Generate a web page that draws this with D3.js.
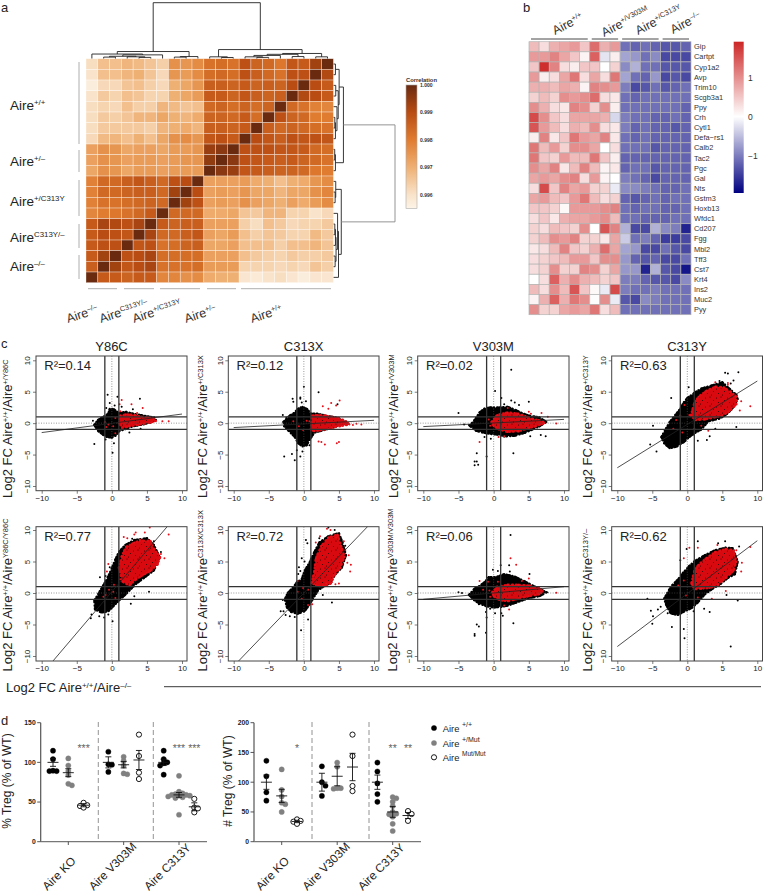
<!DOCTYPE html>
<html><head><meta charset="utf-8">
<script src="https://cdnjs.cloudflare.com/ajax/libs/d3/7.8.5/d3.min.js"></script>
<style>html,body{margin:0;background:#fff}svg{display:block;font-family:"Liberation Sans",Arial,sans-serif}</style>
</head><body><div id="c"></div>
<script>
// ---------- panel a: correlation x 1000, rows top to bottom, columns left to right
const corrRows = [
[996.1,996.7,996.7,996.9,996.8,996.6,996.4,997.6,997.5,997.7,998.2,998.3,998.2,998.9,998.5,998.4,998.1,998.8,998.7,999.3,1000],
[996.0,996.7,996.7,996.9,997.0,996.6,996.2,997.5,997.4,997.7,998.3,998.4,998.3,998.9,998.6,998.4,998.2,998.9,998.9,1000,999.1],
[995.7,996.2,996.2,996.6,996.7,996.4,996.2,997.0,997.2,997.5,998.6,998.6,998.5,998.7,998.5,998.6,998.5,999.0,1000,999.0,998.7],
[996.0,996.5,996.3,996.7,996.6,996.3,996.3,997.0,997.2,997.4,998.7,998.7,998.5,998.8,998.6,998.5,998.6,1000,999.1,999.0,998.7],
[996.1,996.3,996.2,996.7,996.4,996.4,996.9,996.8,996.6,996.7,998.4,998.5,998.3,998.5,998.3,998.5,1000,998.4,998.2,997.9,997.8],
[996.1,996.5,996.4,996.6,996.9,996.9,997.2,997.0,996.9,997.1,998.5,998.5,998.4,998.7,998.3,1000,998.9,998.5,998.4,998.0,998.0],
[996.1,996.5,996.5,996.5,996.5,996.4,996.9,997.0,997.1,996.9,998.6,998.6,998.5,998.7,1000,998.6,998.4,998.5,998.4,998.3,998.2],
[996.2,996.8,996.9,996.7,997.0,996.7,997.2,997.6,997.7,997.5,998.8,998.9,998.7,1000,999.0,998.8,998.6,998.9,998.8,998.9,998.8],
[997.3,997.6,997.5,997.2,997.3,997.3,997.2,997.4,997.4,997.5,999.4,999.6,1000,998.9,998.9,998.9,998.8,998.8,998.7,998.4,998.3],
[997.3,997.6,997.5,997.3,997.4,997.4,997.3,997.4,997.5,997.5,999.5,1000,999.6,998.9,998.8,998.7,998.6,998.7,998.5,998.4,998.2],
[997.2,997.6,997.5,997.2,997.4,997.4,997.3,997.4,997.4,997.4,1000,999.6,999.4,998.8,998.7,998.6,998.5,998.5,998.4,998.1,998.0],
[997.9,998.4,998.4,998.6,998.8,998.6,998.4,998.9,999.0,1000,997.3,997.3,997.3,997.4,997.1,997.0,996.7,997.0,997.1,997.5,997.7],
[997.9,998.4,998.4,998.5,998.6,998.6,998.4,999.3,1000,999.0,997.3,997.4,997.3,997.5,997.2,997.2,996.9,997.2,997.2,997.6,997.8],
[997.9,998.2,998.2,998.3,998.4,998.5,998.4,1000,999.3,998.9,997.3,997.4,997.3,997.6,997.3,997.2,997.0,997.3,997.1,997.4,997.7],
[997.8,998.0,998.1,998.2,998.4,998.7,1000,998.4,998.4,998.4,997.1,997.1,997.2,996.6,996.5,996.9,996.9,996.3,996.3,996.0,996.2],
[998.7,999.2,999.1,998.9,999.2,1000,998.7,998.5,998.6,998.6,997.3,997.3,997.3,996.4,996.1,996.7,996.5,996.2,996.3,996.3,996.5],
[998.7,999.0,998.9,998.8,1000,999.2,998.4,998.4,998.6,998.8,997.3,997.2,997.4,996.7,996.4,996.6,996.5,996.3,996.3,996.8,996.5],
[998.7,998.9,998.9,1000,998.8,998.9,998.2,998.3,998.5,998.6,997.2,997.2,997.3,996.7,996.7,996.7,996.4,996.7,996.7,996.9,996.6],
[998.7,999.3,1000,998.9,999.0,999.2,998.3,998.3,998.3,998.3,997.3,997.3,997.3,996.7,996.5,996.4,996.3,996.5,996.4,996.4,996.5],
[998.6,1000,999.3,998.8,999.0,999.2,998.2,998.2,998.2,998.3,997.4,997.4,997.4,996.3,996.3,996.3,996.2,996.3,996.2,996.6,996.4],
[1000,998.7,998.7,998.5,998.7,998.7,997.8,997.8,997.6,997.7,997.1,997.0,997.0,995.9,995.8,996.0,996.1,995.9,995.7,995.9,995.9]];
const corrTicks = [1.000,0.999,0.998,0.997,0.996];
const corrStops = [0.9955,0.996,0.997,0.998,0.999,1.000];
const corrColors = ["#fdf4e8","#f9e3ca","#efb073","#e07c30","#b94c12","#6a2a10"];
// dendrogram: [height, left, right]; numbers are leaf indices
const dendroTree = [1.0,
 [0.125,[0.08,0,[0.065,[0.04,[0.025,1,2],[0.03,3,[0.02,4,5]]],6]],[0.035,[0.025,7,8],9]],
 [0.16,[0.03,10,[0.018,11,12]],[0.09,[0.075,[0.055,[0.03,13,[0.02,14,15]],16],[0.035,17,18]],[0.03,19,20]]]];
const aLeft = [["+/+",110],["+/–",166],["+/C313Y",205.5],["C313Y/–",241.5],["–/–",270.5]];
const aBottom = [["–/–",68],["C313Y/–",101],["+/C313Y",134],["+/–",186],["+/+",252]];

// ---------- panel b
const genes = ["Gip","Cartpt","Cyp1a2","Avp","Trim10","Scgb3a1","Ppy","Crh","Cytl1","Defa−rs1","Calb2","Tac2","Pgc","Gal","Nts","Gstm3","Hoxb13","Wfdc1","Cd207","Fgg","Mbl2","Tff3","Cst7","Krt4","Ins2","Muc2","Pyy"];
const geneZ = [
[.6,.3,.7,.8,.9,.5,1.3,.7,.9,-1.1,-1.2,-1.1,-1.2,-1.3,-1.3,-1.2],
[.9,.9,1.1,.8,.5,.1,1.4,-.2,.15,-.7,-.8,-1.1,-.9,-1.4,-1.4,-1.4],
[.5,1.85,1.1,.3,.15,.5,.5,0,.4,-.9,-.6,-1.1,-1.1,-1.3,-1.3,-1.3],
[.9,.15,.3,.8,1.2,.3,.8,.3,1.2,-.7,-1.1,-1.2,-.8,-1.4,-1.3,-1.4],
[.7,.7,.6,.8,.7,.1,1.1,1,.9,-1,-1.4,-1.3,-1.1,-1.3,-1.2,-1.1],
[.4,.6,.4,1,.9,1,1.3,.3,.2,-1.1,-1.2,-1.1,-1.1,-1.1,-1.1,-1.1],
[1,.7,.3,.2,1.1,1,.4,1,.15,-1.1,-1.1,-1.1,-1.1,-1.1,-1.1,-1.2],
[1.6,1,.5,.3,.8,.8,.8,.7,-.3,-1,-1.1,-1.1,-1.2,-1.2,-1.1,-1.2],
[1.5,.9,.6,.3,.7,.6,1,.3,.2,-1,-1.2,-1.1,-1.2,-1.2,-1.3,-1.2],
[.15,1.1,.2,.5,1.2,.9,.8,1.1,.2,-1.1,-1.2,-1.1,-1.2,-1.2,-1.2,-1.2],
[1.2,.6,.9,.4,1,1,.8,0,.3,-1.1,-1.1,-1.1,-1.3,-1.2,-1.2,-1.2],
[1.2,.5,.4,.9,.6,.6,1.2,.5,.15,-1.2,-1.2,-1.2,-1.2,-1.2,-1.2,-1.2],
[1,.8,1.1,.2,.6,1.1,.6,.1,.2,-1.2,-1.1,-1.1,-1.3,-1.2,-1.2,-1.2],
[.8,.9,.8,1,1.1,.3,.9,.1,0,-1,-1.1,-1.2,-1.4,-1.2,-1.2,-1.2],
[.3,1.6,.5,1.1,.8,.9,.4,.4,-.15,-.9,-.9,-1,-1.1,-1.2,-1.2,-1.1],
[.8,.9,.6,.5,.9,1.2,.6,.3,.4,-1.2,-1.3,-1.2,-1.1,-1.2,-1.1,-1.1],
[.5,.5,.4,.05,.9,.9,.9,1,1.1,-1.1,-1.2,-1.1,-1.1,-1.2,-1.2,-1.1],
[.3,.5,.2,.7,.8,.8,.9,1,.6,-1.1,-1.1,-1.2,-1.2,-1.2,-1.1,-1.1],
[.4,.3,.6,.5,.4,1,0,1.5,1.1,-.6,-1.4,-1.4,-.6,-.9,-1,-1.7],
[.4,.6,1,.9,1.1,.4,.4,.2,.8,-.4,-1.1,-1,-1.2,-1.5,-1.5,-1.4],
[.2,.3,.6,1.1,.5,.4,.7,1.3,.8,-.7,-.8,-1.4,-1.4,-1.1,-1.3,-1.4],
[.3,.4,.5,.6,.9,.9,.5,1,1,-.8,-1.2,-1.3,-1.2,-1.4,-1.4,-1.1],
[.3,.4,1,.4,.4,1.1,1,.4,.8,-.8,-.8,-1.7,-.6,-1.3,-1.4,-1.8],
[0,.3,1.4,.7,1,.7,.6,.4,.5,-1,-1,-1.2,-1.3,-1.3,-1.4,-.9],
[.6,.3,1,.6,1.5,.5,.05,-.15,1.6,-1,-1.1,-1.1,-1,-1.1,-1.1,-1.1],
[.1,.7,1.4,.7,1.2,1,.02,1,-.15,-1.3,-1.4,-.9,-1,-1.1,-1.1,-1.1],
[1,.4,.4,.8,.9,.8,1.2,.3,.6,-1.1,-1.1,-1.1,-1.1,-1.1,-1.1,-1.1]];
const bGroups = [["+/+",0,6],["+/V303M",6,9],["+/C313Y",9,13],["–/–",13,16]];
const zTicks = [1,0,-1];

// ---------- panel c: cloud outlines and individually readable points, in log2 FC units
const titles = ["Y86C","C313X","V303M","C313Y"];
const hetSup = ["+/Y86C","+/C313X","+/V303M","+/C313Y"];
const homSup = ["Y86C/Y86C","C313X/C313X","V303M/V303M","C313Y/–"];
const r2 = ["0.14","0.12","0.02","0.63","0.77","0.72","0.06","0.62"];
const fitEnds = [[-1.5,1.45],[-.7,.45],[-.55,.6],[-7.1,6.7],[-12.9,13.3],[-11.6,11.6],[-1,1],[-8.5,8.3]];
const blackHulls = [
[[-2.5,-.3],[-2,.5],[-1.2,1],[-.5,1.5],[-.3,2.3],[.3,2.2],[1,1.6],[2,1.8],[3,1.5],[4,1.3],[5,1.1],[6,.9],[6.3,.5],[5.5,.1],[4,-.3],[3,-.5],[2,-.9],[1,-1.3],[.5,-2],[0,-2.3],[-.7,-2.2],[-1.3,-1.8],[-2,-1.2]],
[[-2.9,.2],[-2,1.2],[-1.4,1.6],[-.8,2.3],[-.2,2.6],[.5,2.2],[1,1.5],[2,1.5],[3,1.2],[4,1],[5,.8],[5.5,.3],[4.5,-.6],[3.5,-.9],[2.5,-1.2],[1.5,-1.5],[.9,-2.5],[.4,-3.5],[-.2,-3.7],[-.8,-3.2],[-1.3,-2.2],[-2.1,-1.3],[-2.8,-.5]],
[[-3.4,-.4],[-2.5,.8],[-2,1.7],[-1.3,2.3],[-.5,2.5],[1,2.5],[2,2.6],[3.1,2.1],[4,1.6],[5,1.2],[6.5,.9],[7.5,.2],[6.5,-.5],[5.5,-1],[4.5,-1.5],[3,-2],[1.5,-2.1],[.5,-1.8],[-.5,-1.7],[-1.5,-1.5],[-2.5,-1.2]],
[[-3.7,-2.2],[-3,-.8],[-2.5,.2],[-1.7,1.3],[-1,2.3],[-.5,3.3],[0,4],[1,4.8],[2,5.5],[3.5,6],[5,6.5],[6,5.5],[7,4.5],[7.2,3.8],[6.5,2.4],[5.5,1.3],[4.5,.7],[3,.3],[2,-1],[1,-1.6],[.3,-2.2],[-.5,-3],[-1.5,-3.7],[-2.5,-4],[-3.3,-3.2]],
[[-2.4,-2.6],[-2.5,-1.2],[-1.9,-.1],[-1.4,.9],[-.9,1.8],[-.4,2.9],[.1,4.2],[.5,5.3],[1,6.5],[1.9,7.6],[3.2,8.4],[5,8.7],[6,7.6],[6.8,5.7],[6,3.6],[4.7,2.5],[3.5,1.5],[2.5,.4],[1.7,-.5],[.9,-1.3],[.3,-2],[-.5,-2.9],[-1.5,-3.1]],
[[-2.4,-2.3],[-2.7,-1],[-2.3,0],[-1.5,.9],[-1,1.7],[-.3,2.2],[.1,3.5],[.8,4.8],[1.5,6.5],[2.2,8],[3.5,9],[5,9.5],[5.5,8],[6,6],[5.4,4],[4.5,3],[3.8,1.6],[3,1.2],[2,.4],[1.3,-.9],[.7,-2],[.1,-2.9],[-.9,-3.3],[-1.8,-3]],
[[-3.5,-.3],[-2.7,.7],[-2,1.1],[-1.3,1.7],[-.7,2.5],[.3,2.5],[1.5,3],[3,2.6],[4.5,1.8],[5.5,1.2],[6.5,.7],[7.5,.1],[6.5,-.5],[5,-.8],[3.5,-1.4],[2,-2],[1,-2.2],[0,-2.3],[-1,-2.1],[-2,-1.7],[-2.8,-1.1]],
[[-3,-1.9],[-3.3,-.9],[-2.6,.5],[-2.1,1.3],[-1.3,2.2],[-.6,3.2],[.3,4.3],[1.1,5.1],[2.5,6],[4,6.8],[5.5,7.2],[6.5,7.1],[7.2,5],[6.8,3],[5.8,2.4],[4.8,1.5],[3.5,.6],[2.5,-.2],[1.5,-1.5],[.6,-2.4],[-.4,-2.9],[-1.4,-3.5],[-2.4,-3.2]]];
const redHulls = [
[[1,0],[1.2,1.2],[2,1.4],[3.2,1.3],[4.2,1],[5.2,.9],[6,.7],[6.3,.4],[5.5,.1],[4.5,-.1],[3.5,-.3],[2.5,-.5],[1.5,-.8]],
[[1,-1],[1.1,1.2],[2,1.3],[3,1.2],[4,1],[5,.8],[6,.3],[6.5,-.2],[5.5,-.4],[4.5,-.6],[3.5,-.9],[2.5,-1.1],[1.5,-1.3]],
[[-.3,.2],[.5,1.3],[2,1.7],[3.5,1.5],[4.5,1.1],[5.5,.7],[7,.3],[7.2,0],[6,-.5],[5,-.8],[3.5,-1.3],[2,-1.4],[.8,-1],[0,-.5]],
[[.5,1.2],[1,3.2],[1.6,4.2],[2.8,5.2],[4,5.8],[5.2,5.7],[6.2,5],[7,4.2],[7,3],[6,1.9],[5,1.2],[3.8,.9],[2.5,.6],[1.2,.5]],
[[1,4],[1.4,5.8],[2,7.3],[3.2,8],[4,8.3],[5.5,8.3],[6,7],[6.9,5.7],[6.5,4.5],[5.5,3.5],[4.5,2.9],[3.5,2.2],[2.5,1.2],[1.5,1.8]],
[[1.1,1.6],[1.5,3.5],[1.7,5.5],[2.5,7.5],[3.5,8.8],[4.8,9.3],[5.3,7.5],[5.8,5.8],[5.2,4],[4.3,2.8],[3.8,1.5],[3,1.1],[2,1.1]],
[[-.2,.1],[.5,1],[2,1.3],[3.5,1.3],[5,1.2],[6.5,.7],[7,.3],[6.5,-.2],[5,-.5],[3.5,-.9],[2,-1.3],[.8,-1.1],[0,-.5]],
[[.6,1.6],[1,3.5],[1.6,4.5],[2.8,5.6],[4,6.5],[5.5,7],[6.6,6.8],[7,5],[6.6,3.5],[5.5,2.4],[4.4,1.3],[3.2,.8],[2,.7],[1,.6]]];
const blackPoints = [
[[-2.5,-3.3],[-.6,4.5],[.8,4.2],[.1,-4.7],[4,3.9],[2.5,-1.5],[-.3,3.2],[.4,2.8],[-.8,2.4],[1.4,2.6],[3,2.2],[-2.7,.4],[4.1,-.9],[-.9,-2.6],[.3,-3.2]],
[[0,5.8],[2.1,4.9],[-1.6,3.9],[-1.5,3.4],[-.5,4.1],[-.5,3.9],[.3,3.5],[-.3,3.3],[4.8,3],[-2.8,-5.3],[-1.3,-5.9],[-.5,-5.3],[-1,-4.3],[-.2,-4.5],[-1.7,-4.9],[-3,1.3],[-2.5,.9],[.8,-3.5]],
[[2.5,8.5],[.2,5.1],[1.1,4],[-5,1.6],[-2.4,-4.8],[2.8,-4.8],[-2.7,-6.1],[-2.4,-6.1],[-2.7,-6.7],[-2.2,-6.6],[-1,-5.3],[-4.2,-.2],[-3.5,-.3],[5.2,-2.1],[7.4,-2.1],[6.7,-1.9],[2.5,3.6],[3,3.3],[-.4,-2.5],[-1.3,-2.2],[1.5,3],[3.6,2.9],[5,3.4]],
[[-4.4,-4.5],[-5.3,-3.4],[-4.9,-.4],[-2.3,4],[.2,5.7],[5.4,8],[5.8,7.9],[7.3,8.1],[6.6,6.8],[7,-.6],[3.2,-2.1],[1.5,-2.8],[2.8,-2.7],[4,-.9],[.9,-1.8],[6.2,6.3],[4.6,6.7]],
[[-2.9,-3.4],[-3,-4],[2.7,-1.7],[5.3,.2],[.1,-4.5],[-1.8,-3.7],[-1.1,-3.9],[-.9,2.7],[-.3,4.1],[-1.7,2.5],[3.2,-.5],[1.2,-.9],[-.5,-3.4],[6,8.2],[7,6.5],[2.9,8.6]],
[[.3,8.4],[.5,7.9],[-.3,5.5],[-.7,4.1],[-.5,3.5],[-.8,3],[4,-1.5],[-.4,-5.9],[-2.9,-2.9],[-3.3,-2.9],[-2.6,-3.5],[-2,-3.7],[-1.3,-3.8],[-3,-1.1],[.6,-4.2],[2.7,-.3],[4.4,10],[3.5,10.4],[2.2,8.7],[5.9,7.5],[.1,5]],
[[2.4,9.2],[1,4.4],[2.2,4.4],[2.3,3.4],[5.1,3],[-2.1,-1.8],[-1.1,-3],[-1,-3.9],[1.1,-3.2],[.2,-3.2],[1.3,-3.6],[-2.4,-5],[-2.1,-5.3],[-2.7,-6.5],[-2.7,-6.8],[-1.1,-6.3],[2.8,-4.8],[.6,3.5],[-.1,3.7],[-4.5,0],[-5,.1],[-.5,-2.5]],
[[-5.7,-.9],[-5,-4.9],[-2.2,-5.4],[-.5,-5.7],[-.4,-7.2],[6.2,-8.5],[7.2,-1.2],[-2.8,-3.2],[-4.9,-3.7],[-5.2,-2.8],[1.5,8.2],[-.1,7],[5.4,8.2],[4.4,7.9],[7.4,7.4],[-1,5.2],[.9,-2.9],[3.2,-3],[2.4,-2.5],[5.6,-.3],[-4.2,-2.6],[-3.8,-2.2]]];
const redPoints = [
[[1.4,3.7],[2.8,3],[4.4,2.4],[7.2,.3],[8.1,.3],[-.5,-.2],[.2,-.5],[-1,.2],[.5,.8],[-.8,-.6],[1.1,3],[.5,-1.6],[1.2,1.9],[3.6,1.6]],
[[2.5,-3],[2.1,-2.9],[3,-3.4],[4.7,-3.2],[5,-3],[2.7,2.7],[3.9,3.2],[5.1,3.6],[3.5,2.3],[4.6,2.8],[7,-.3],[7.5,-.1],[8.2,-.2],[-.7,-.5],[.4,.4],[-.1,-1.1],[-1.5,.3],[.8,.3]],
[[-2,-3],[.7,-2.2],[2,2.4],[5,1.8],[6.8,1.6],[7.7,1],[8.9,-.05],[-.7,.6],[-.5,-.4],[1.5,-2.1],[5.3,1.5]],
[[1,-.9],[2,-.4],[-.4,2.9],[9,2.7],[5.8,6.4],[5.8,6.1],[4,6.5],[7.5,2],[3,-1.2],[-1,1.2],[-.7,-1.5],[.3,1.3],[7.7,3.5],[-1.6,.5],[-2,-.9]],
[[3.4,9.6],[5.4,10.4],[4.7,9.6],[8.1,9.3],[7.5,5.5],[7,6.2],[3.2,9.3],[2.2,8.7],[1.7,8.9],[-.5,4.6],[-.7,3.4],[5,3.2],[1.2,2.2],[.3,1.3],[-.9,-.3],[.2,.2],[-1.2,-.6],[.5,-.8],[-.4,.5],[6.1,7],[4,8.5]],
[[3.3,10.2],[3.8,10],[4.6,8.8],[6.4,6],[6.2,4.8],[6.7,4.5],[6.6,3.4],[5.7,8.2],[5,1.5],[4.5,1.4],[2.7,1.2],[1.7,8],[2.3,9],[-.1,.8],[.6,.5],[-.9,.2],[-.3,-.9],[.6,-1.9],[1.2,-1.8],[-.9,1.9],[3.2,1.5],[5.9,6.8],[4,1.7]],
[[2.4,5.5],[3.2,4.5],[2.2,-2.6],[1.5,-2],[8.9,.05],[.6,1.8],[-.6,.4],[-2,1.9],[-.8,1.8],[5,2.3],[-.5,-.6],[4,1.9],[-1.5,.5]],
[[9,7.3],[7.8,4.8],[7.7,3.4],[4.3,7.6],[1.5,7.2],[-.5,5.5],[7,6.8],[.3,7.2],[1.5,-.7],[-.5,2],[.6,1.4],[-1.3,1.2],[-.2,-.4],[6.2,3.6],[3.5,-.9],[5.5,.3]]];
const axisTicks = [-10,-5,0,5,10];

// ---------- panel d
const dGroups = ["Aire KO","Aire V303M","Aire C313Y"];
const dGenos = ["wt","het","mut"];
const pctValues = [
[[114.7,104,89.5,89,89],[105,96,89,84,73,71],[49,46,45,43]],
[[113.4,97.5,97,88],[107,102,96,86,85],[135,108,87,79]],
[[114.7,104,100,99,96,84.5],[83,63,61,60,59,59,58,58,57,56,55,34],[54,43,42,37]]];
const pctMean = [[100,87,46],[100,97,103],[100,59,44]];
const pctErr = [[5,5,2],[7,4,12],[4,3,5]];
const pctStars = [["***",0,2],["***",2,1],["***",2,2]];
const numValues = [
[[136,110,83,69],[121.5,87,76,65.5,63,50],[37.5,35,33.6,30]],
[[126.6,100,94,77],[133,126,90,90,89],[180,144,93.6,85]],
[[133,118,98,80,67],[75,73,67,60,50,47,46,42,30,18],[51.5,46.5,35]]];
const numMean = [[100,77,34],[100,110,125.5],[100,50,44]];
const numErr = [[12,11,2],[15,16,23],[12,9,5]];
const numStars = [["*",0,2],["**",2,1],["**",2,2]];
const pctTicks = [0,50,100,150];
const numTicks = [0,50,100,150,200];
const dLegend = [["wt","+/+",7],["het","+/Mut",7],["mut","Mut/Mut",6.5]];

// ---------- drawing
const svg = d3.select("#c").append("svg").attr("width",763).attr("height",895);
const defs = svg.append("defs");
const INK="#222";

// speckle textures laid over the dense part of each cloud
const spk=defs.append("pattern").attr("id","speck").attr("patternUnits","userSpaceOnUse").attr("width",11).attr("height",9);
[[1.5,2],[6,1],[9.5,4.5],[3.5,6.5],[7.5,8]].forEach(p=>spk.append("circle").attr("cx",p[0]).attr("cy",p[1]).attr("r",.55).attr("fill","#300"));

function rich(g,x,y,size,base,sup,rot,fill){
  const t=g.append("text").attr("transform",`translate(${x},${y}) rotate(${rot||0})`).attr("font-size",size).attr("fill",fill||INK);
  t.append("tspan").text(base);
  if(sup){t.append("tspan").attr("font-size",size*.58).attr("dy",-size*.36).text(sup);}
  return t;
}
function letter(s,x,y){svg.append("text").attr("x",x).attr("y",y).attr("font-size",13).attr("fill",INK).text(s);}
letter("a",1,12);letter("b",523,12);letter("c",1,348);letter("d",1,725);

// ---- a
{
 const g=svg.append("g");
 const idx=d3.range(21);
 const x=d3.scaleBand().domain(idx).range([86,333.4]);
 const y=d3.scaleBand().domain(idx).range([58.7,282.7]);
 const col=d3.scaleLinear().domain(corrStops).range(corrColors);
 corrRows.forEach((row,r)=>{
  g.selectAll(null).data(row).join("rect")
   .attr("x",(d,c)=>x(c)).attr("y",y(r)).attr("width",x.bandwidth()).attr("height",y.bandwidth())
   .attr("fill",d=>col(d/1000)).attr("stroke","#fff").attr("stroke-opacity",.55).attr("stroke-width",.6);
 });
 const pos=i=>i+.5;
 const top=d3.scaleLinear().domain([0,1]).range([58.5,2.7]);
 const tx=d3.scaleLinear().domain([0,21]).range([86,333.4]);
 const side=d3.scaleLinear().domain([0,1]).range([333.6,395]);
 const sy=d3.scaleLinear().domain([0,21]).range([282.7,58.7]);
 function walk(n,emit){
  if(typeof n==="number") return {p:pos(n),h:0};
  const a=walk(n[1],emit),b=walk(n[2],emit),p=(a.p+b.p)/2;
  emit(a,b,n[0]);
  return {p,h:n[0]};
 }
 const dg=svg.append("g").attr("fill","none").attr("stroke","#222").attr("stroke-width",.9);
 walk(dendroTree,(a,b,h)=>{
  dg.append("path").attr("d",d3.line()([[tx(a.p),top(a.h)],[tx(a.p),top(h)],[tx(b.p),top(h)],[tx(b.p),top(b.h)]]));
  dg.append("path").attr("stroke",h===1?"#888":"#222").attr("d",d3.line()([[side(a.h),sy(a.p)],[side(h),sy(a.p)],[side(h),sy(b.p)],[side(b.h),sy(b.p)]]));
 });
 aLeft.forEach(d=>rich(g,10,d[1],13.5,"Aire",d[0]));
 aBottom.forEach(d=>rich(g,d[1],323,12.5,"Aire",d[0],-18,"#333"));
 const marks=svg.append("g").attr("stroke","#999").attr("stroke-width",.8);
 [[62,144],[150,172],[180,216],[224,248],[255,279]].forEach(s=>marks.append("line").attr("x1",79).attr("x2",79).attr("y1",s[0]).attr("y2",s[1]));
 [[88,117],[124,154],[160,200],[207,236],[241,331]].forEach(s=>marks.append("line").attr("y1",288.7).attr("y2",288.7).attr("x1",s[0]).attr("x2",s[1]));
 // colour key
 const ky=d3.scaleLinear().domain([0.9955,1.0]).range([208.5,85]);
 const gr=defs.append("linearGradient").attr("id","ca").attr("x1",0).attr("x2",0).attr("y1",1).attr("y2",0);
 corrStops.forEach((s,i)=>gr.append("stop").attr("offset",(s-0.9955)/0.0045).attr("stop-color",corrColors[i]));
 svg.append("rect").attr("x",406).attr("y",85).attr("width",11).attr("height",123.5).attr("fill","url(#ca)").attr("stroke","#aaa").attr("stroke-width",.6);
 svg.append("text").attr("x",406).attr("y",82).attr("font-size",5.8).attr("font-weight","bold").attr("fill","#333").text("Correlation");
 corrTicks.forEach(t=>svg.append("text").attr("x",420).attr("y",ky(t)+1.8).attr("font-size",5).attr("font-weight","bold").attr("fill","#333").text(t.toFixed(3)));
}

// ---- b
{
 const x=d3.scaleBand().domain(d3.range(16)).range([529,691]);
 const y=d3.scaleBand().domain(genes).range([41.7,314.7]);
 const col=d3.scaleLinear().domain([-1.96,0,1.92]).range(["#000080","#ffffff","#cd2626"]);
 const g=svg.append("g");
 geneZ.forEach((row,r)=>{
  g.selectAll(null).data(row).join("rect")
   .attr("x",(d,c)=>x(c)).attr("y",y(genes[r])).attr("width",x.bandwidth()).attr("height",y.bandwidth())
   .attr("fill",d=>col(d)).attr("stroke","#b4b4b4").attr("stroke-width",.7);
 });
 g.selectAll(null).data(genes).join("text").attr("x",694).attr("y",d=>y(d)+y.bandwidth()/2+2.6).attr("font-size",7.4).attr("fill","#333").text(d=>d);
 const starts=[[555,35],[604,37],[638,35],[673,34]];
 bGroups.forEach((d,i)=>{
  g.append("line").attr("x1",x(d[1])+2).attr("x2",x(d[2]-1)+x.bandwidth()-2).attr("y1",39).attr("y2",39).attr("stroke","#333").attr("stroke-width",.9);
  rich(g,starts[i][0],starts[i][1],12.5,"Aire",d[0],-27,"#333");
 });
 const ky=d3.scaleLinear().domain([-1.96,1.92]).range([193,41.7]);
 const gr=defs.append("linearGradient").attr("id","cb").attr("x1",0).attr("x2",0).attr("y1",1).attr("y2",0);
 [-1.96,0,1.92].forEach(v=>gr.append("stop").attr("offset",(v+1.96)/3.88).attr("stop-color",col(v)));
 svg.append("rect").attr("x",733.7).attr("y",41.7).attr("width",10).attr("height",151.3).attr("fill","url(#cb)");
 zTicks.forEach(t=>svg.append("text").attr("x",748).attr("y",ky(t)+3).attr("font-size",8.5).attr("fill","#333").text(t<0?"−"+(-t):t));
}

// ---- c
{
 const boxes=[[36,187,41.7,182],[228.3,379,233.7,374],[417.7,569,423.3,564],[611.7,762.5,617.3,757.3]];
 const rows=[{top:356,bot:490.7,y10:360.3,ym:486,lab:498,sup:hetSup,xl:[12,207,397.7,592]},
             {top:526.7,bot:661,y10:530,ym:656,lab:671.5,sup:homSup,xl:[12,206.7,396.7,591.7]}];
 rows.forEach((R,ri)=>{
  boxes.forEach((B,ci)=>{
   const k=ri*4+ci;
   const x=d3.scaleLinear().domain([-10,10]).range([B[2],B[3]]);
   const y=d3.scaleLinear().domain([-10,10]).range([R.ym,R.y10]);
   const g=svg.append("g");
   const id="cp"+k;
   defs.append("clipPath").attr("id",id).append("rect").attr("x",B[0]).attr("y",R.top).attr("width",B[1]-B[0]).attr("height",R.bot-R.top);
   const p=g.append("g").attr("clip-path",`url(#${id})`);
   const hull=d3.line().x(d=>x(d[0])).y(d=>y(d[1])).curve(d3.curveLinearClosed);
   p.append("path").attr("d",hull(blackHulls[k])).attr("fill","#000");
   p.append("path").attr("d",hull(blackHulls[k])).attr("fill","none").attr("stroke","#000").attr("stroke-width",2.4).attr("stroke-dasharray","1.1 2.4 .4 3.1 .8 1.7").attr("stroke-linecap","round");
   p.append("g").selectAll("circle").data(blackHulls[k].concat(blackPoints[k])).join("circle").attr("cx",d=>x(d[0])).attr("cy",d=>y(d[1])).attr("r",1).attr("fill","#000");
   p.append("path").attr("d",hull(redHulls[k])).attr("fill","#d8090f");
   p.append("path").attr("d",hull(redHulls[k])).attr("fill","url(#speck)");
   p.append("path").attr("d",hull(redHulls[k])).attr("fill","none").attr("stroke","#e00c14").attr("stroke-width",2.4).attr("stroke-dasharray",".8 3.1 .3 2.3 1.1 3.7").attr("stroke-linecap","round");
   p.append("g").selectAll("circle").data(redHulls[k].concat(redPoints[k])).join("circle").attr("cx",d=>x(d[0])).attr("cy",d=>y(d[1])).attr("r",1).attr("fill","#e8101a");
   const L=(a,b,c,d,col,w,dash)=>{const l=p.append("line").attr("x1",a).attr("x2",b).attr("y1",c).attr("y2",d).attr("stroke",col).attr("stroke-width",w);if(dash)l.attr("stroke-dasharray",dash);};
   L(B[0],B[1],y(0),y(0),"#555",.6,"1 1.5");
   L(x(0),x(0),R.top,R.bot,"#555",.6,"1 1.5");
   [-1,1].forEach(v=>{L(B[0],B[1],y(v),y(v),"#333",1.3);L(x(v),x(v),R.top,R.bot,"#333",1.3);});
   L(x(-10),x(10),y(fitEnds[k][0]),y(fitEnds[k][1]),"#222",.8);
   g.append("rect").attr("x",B[0]).attr("y",R.top).attr("width",B[1]-B[0]).attr("height",R.bot-R.top).attr("fill","none").attr("stroke","#444").attr("stroke-width",1);
   const ax=g.append("g").attr("transform",`translate(0,${R.bot})`).call(d3.axisBottom(x).tickValues(axisTicks).tickSize(3).tickPadding(1.5).tickFormat(d=>d<0?"−"+(-d):d));
   ax.attr("font-family",null).select(".domain").remove();
   ax.selectAll("text").attr("font-size",8).attr("fill",INK);
   ax.selectAll("line").attr("stroke","#444").attr("stroke-width",.7);
   const ay=g.append("g").attr("transform",`translate(${B[0]},0)`).call(d3.axisLeft(y).tickValues(axisTicks).tickSize(3).tickPadding(1.5).tickFormat(d=>d<0?"−"+(-d):d));
   ay.attr("font-family",null).select(".domain").remove();
   ay.selectAll("line").attr("stroke","#444").attr("stroke-width",.7);
   ay.selectAll("text").attr("font-size",8).attr("fill",INK).attr("dy",0).attr("x",0).attr("y",0)
     .attr("text-anchor","middle").attr("transform","translate(-5.8,0) rotate(-90)");
   g.append("text").attr("x",B[0]+8.3).attr("y",R.top+14).attr("font-size",13).attr("fill",INK).text("R²="+r2[k]);
   if(ri===0) g.append("text").attr("x",(B[0]+B[1])/2).attr("y",350.5).attr("text-anchor","middle").attr("font-size",13).attr("fill",INK).text(titles[ci]);
   const t=g.append("text").attr("transform",`translate(${R.xl[ci]},${R.lab}) rotate(-90)`).attr("font-size",13).attr("fill",INK);
   t.append("tspan").text("Log2 FC Aire");
   t.append("tspan").attr("font-size",7.5).attr("dy",-4).text("+/+");
   t.append("tspan").attr("dy",4).text("/Aire");
   t.append("tspan").attr("font-size",7.5).attr("dy",-4).text(R.sup[ci]);
  });
 });
 const t=svg.append("text").attr("x",6).attr("y",692).attr("font-size",13).attr("fill",INK);
 t.append("tspan").text("Log2 FC Aire");
 t.append("tspan").attr("font-size",8).attr("dy",-4.5).text("+/+");
 t.append("tspan").attr("dy",4.5).text("/Aire");
 t.append("tspan").attr("font-size",8).attr("dy",-4.5).text("–/–");
 svg.append("line").attr("x1",164).attr("x2",761).attr("y1",686.7).attr("y2",686.7).attr("stroke","#222").attr("stroke-width",.9);
}

// ---- d
function dotStyle(sel,geno){
 sel.attr("r",2.6).attr("fill",geno==="wt"?"#000":geno==="het"?"#808080":"#fff")
    .attr("stroke",geno==="het"?"#808080":"#000").attr("stroke-width",geno==="mut"?.9:.4);
}
function dotPanel(o){
 const g=svg.append("g");
 const y=d3.scaleLinear().domain([0,o.max]).range([841.7,722.7]);
 const gx=d3.scalePoint().domain(dGroups).range(o.cats);
 const sx=d3.scalePoint().domain(dGenos).range([-15.3,15.3]);
 g.append("line").attr("x1",o.axis).attr("x2",o.axis).attr("y1",722.7).attr("y2",841.7).attr("stroke","#555").attr("stroke-width",1.2);
 g.append("line").attr("x1",o.axis).attr("x2",o.end).attr("y1",841.7).attr("y2",841.7).attr("stroke","#777").attr("stroke-width",1.2);
 o.ticks.forEach(t=>{
  g.append("line").attr("x1",o.axis-3.5).attr("x2",o.axis).attr("y1",y(t)).attr("y2",y(t)).attr("stroke","#444").attr("stroke-width",.9);
  g.append("text").attr("x",o.axis-5).attr("y",y(t)+2.4).attr("text-anchor","end").attr("font-size",6.8).attr("font-weight","bold").attr("fill","#222").text(t);
 });
 o.dash.forEach(xv=>g.append("line").attr("x1",xv).attr("x2",xv).attr("y1",722).attr("y2",841.7).attr("stroke","#777").attr("stroke-width",.8).attr("stroke-dasharray","5 3"));
 dGroups.forEach((name,gi)=>{
  g.append("line").attr("x1",gx(name)).attr("x2",gx(name)).attr("y1",841.7).attr("y2",845).attr("stroke","#444").attr("stroke-width",.9);
  g.append("text").attr("transform",`translate(${gx(name)+[-21,-30,-30][gi]},891) rotate(-45)`).attr("font-size",11.8).attr("fill","#222").text(name);
  dGenos.forEach((ge,si)=>{
   const cx=gx(name)+sx(ge);
   // swarm: each value takes the nearest free slot beside the column
   const placed=[];
   const pts=o.values[gi][si].slice().sort((a,b)=>b-a).map(v=>{
    const py=y(v);let off=0;
    for(const c of [0,3.6,-3.6,7.2,-7.2,10.8,-10.8]){ if(placed.every(q=>Math.hypot(q[0]-c,q[1]-py)>=3.6)){off=c;break;} }
    placed.push([off,py]);return [off,py];
   });
   dotStyle(g.append("g").selectAll("circle").data(pts).join("circle").attr("cx",d=>cx+d[0]).attr("cy",d=>d[1]),ge);
   const m=o.mean[gi][si],e=o.err[gi][si];
   const s=g.append("g").attr("stroke","#111").attr("stroke-width",.9);
   s.append("line").attr("x1",cx-5.5).attr("x2",cx+5.5).attr("y1",y(m)).attr("y2",y(m));
   s.append("line").attr("x1",cx).attr("x2",cx).attr("y1",y(m+e)).attr("y2",y(m-e));
   s.append("line").attr("x1",cx-3).attr("x2",cx+3).attr("y1",y(m+e)).attr("y2",y(m+e));
   s.append("line").attr("x1",cx-3).attr("x2",cx+3).attr("y1",y(m-e)).attr("y2",y(m-e));
  });
 });
 o.stars.forEach(s=>g.append("text").attr("x",gx(dGroups[s[1]])+sx(dGenos[s[2]])).attr("y",o.starY).attr("text-anchor","middle").attr("font-size",10.5).attr("fill","#666").text(s[0]));
 g.append("text").attr("transform",`translate(${o.titleX},781) rotate(-90)`).attr("text-anchor","middle").attr("font-size",o.titleSize).attr("fill","#222").text(o.title);
}
dotPanel({max:150,ticks:pctTicks,values:pctValues,mean:pctMean,err:pctErr,stars:pctStars,axis:40.7,end:207,cats:[68.3,179],dash:[98.3,153.3],starY:751.5,title:"% Treg (% of WT)",titleX:11,titleSize:12});
dotPanel({max:200,ticks:numTicks,values:numValues,mean:numMean,err:numErr,stars:numStars,axis:254,end:421,cats:[281.7,392.7],dash:[312,369],starY:751.5,title:"# Treg (% of WT)",titleX:232,titleSize:12});
dLegend.forEach((d,i)=>{
 const yy=[728,743,757.3][i];
 dotStyle(svg.append("circle").attr("cx",434).attr("cy",yy),d[0]);
 svg.append("text").attr("x",442.7).attr("y",yy+3.5).attr("font-size",9.4).attr("fill","#222").text("Aire");
 svg.append("text").attr("x",462).attr("y",yy-1.5).attr("font-size",d[2]).attr("fill","#222").text(d[1]);
});
</script></body></html>
